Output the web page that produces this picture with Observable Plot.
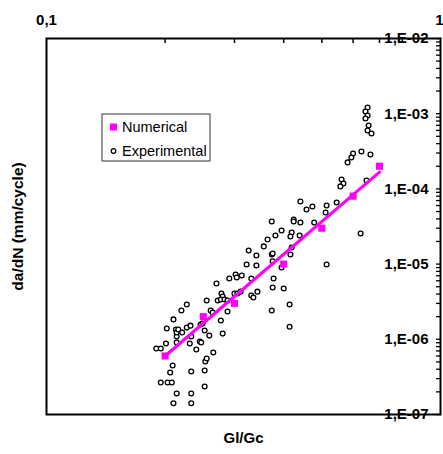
<!DOCTYPE html>
<html>
<head>
<meta charset="utf-8">
<script src="https://cdn.jsdelivr.net/npm/d3@7"></script>
<script src="https://cdn.jsdelivr.net/npm/@observablehq/plot@0.6"></script>
<style>
  html, body { margin: 0; padding: 0; background: #fff; }
  #chart { width: 443px; height: 454px; overflow: hidden; }
</style>
</head>
<body>
<div id="chart"></div>
<script>
// ---- tick values and labels ----
const xTicks = [0.1, 1];
const xTickLabels = ["0,1", "1"];
const xMinorTicks = [0.2, 0.3, 0.4, 0.5, 0.6, 0.7, 0.8, 0.9];
const yTicks = [1e-7, 1e-6, 1e-5, 1e-4, 1e-3, 1e-2];
const yTickLabels = ["1,E-07", "1,E-06", "1,E-05", "1,E-04", "1,E-03", "1,E-02"];
const yMinorFactors = [2, 3, 4, 5, 6, 7, 8, 9];

// ---- Numerical series ----
const numX = [0.2, 0.25, 0.3, 0.4, 0.5, 0.6, 0.7];
const numY = [6e-7, 2e-6, 3e-6, 1e-5, 3e-5, 8e-5, 2e-4];

// ---- power-law fit line through numerical results ----
const fitX = [0.2, 0.7];
const fitY = [6e-7, 1.67e-4];

// ---- Experimental series ----
const expX = [0.210,0.233,0.214,0.233,0.195,0.203,0.208,0.206,0.209,0.233,
  0.252,0.252,0.253,0.255,0.265,0.240,0.190,0.195,0.201,0.214,
  0.231,0.245,0.247,0.214,0.233,0.259,0.252,0.280,0.202,0.213,
  0.214,0.216,0.221,0.227,0.232,0.210,0.220,0.227,0.246,0.249,
  0.261,0.264,0.277,0.288,0.255,0.270,0.278,0.280,0.272,0.277,
  0.283,0.288,0.300,0.305,0.311,0.331,0.335,0.343,0.375,0.400,
  0.414,0.373,0.414,0.291,0.302,0.304,0.313,0.331,0.322,0.341,
  0.377,0.375,0.395,0.326,0.341,0.373,0.375,0.419,0.416,0.356,
  0.364,0.381,0.395,0.419,0.416,0.439,0.373,0.424,0.424,0.441,
  0.478,0.441,0.457,0.473,0.514,0.511,0.545,0.514,0.627,0.561,
  0.567,0.557,0.581,0.600,0.594,0.630,0.664,0.649,0.653,0.645,
  0.653,0.645,0.657,0.653,0.668];
const expY = [1.41e-7,1.41e-7,1.90e-7,1.90e-7,2.66e-7,2.66e-7,2.66e-7,3.62e-7,4.48e-7,3.73e-7,
  2.36e-7,3.85e-7,5.07e-7,5.56e-7,6.68e-7,7.32e-7,7.55e-7,7.55e-7,8.79e-7,9.07e-7,
  8.79e-7,9.35e-7,9.07e-7,1.09e-6,1.09e-6,1.12e-6,1.31e-6,1.19e-6,1.39e-6,1.35e-6,
  1.23e-6,1.35e-6,1.23e-6,1.43e-6,1.52e-6,1.84e-6,2.41e-6,2.90e-6,1.57e-6,1.62e-6,
  2.41e-6,2.27e-6,1.78e-6,2.34e-6,3.28e-6,5.52e-6,4.06e-6,3.71e-6,3.28e-6,3.38e-6,
  3.38e-6,3.28e-6,4.06e-6,4.06e-6,4.30e-6,3.82e-6,3.60e-6,4.30e-6,4.88e-6,4.73e-6,
  2.90e-6,2.41e-6,1.47e-6,6.43e-6,7.27e-6,6.63e-6,7.05e-6,6.43e-6,9.88e-6,9.58e-6,
  6.43e-6,1.09e-5,9.01e-6,1.52e-5,1.30e-5,1.34e-5,1.38e-5,1.66e-5,1.34e-5,1.72e-5,
  2.12e-5,2.40e-5,2.80e-5,2.63e-5,2.33e-5,2.40e-5,3.69e-5,3.92e-5,3.69e-5,3.58e-5,
  3.58e-5,6.80e-5,5.32e-5,5.84e-5,6.02e-5,4.85e-5,6.60e-5,9.88e-6,2.55e-5,1.33e-4,
  1.18e-4,1.08e-4,2.25e-4,2.95e-4,2.61e-4,3.14e-4,2.87e-4,1.29e-4,1.21e-3,1.07e-3,
  9.46e-4,8.63e-4,6.97e-4,5.98e-4,5.45e-4];

// ---- legend / labels ----
const seriesNames = ["Numerical", "Experimental"];
const xLabel = "Gl/Gc";
const yLabel = "da/dN (mm/cycle)";

const MAGENTA = "#ff00ff";
const FONT = "'Liberation Sans', Arial, sans-serif";

const experimental = expX.map((x, i) => ({x, y: expY[i]}));
const numerical = numX.map((x, i) => ({x, y: numY[i]}));
const fit = fitX.map((x, i) => ({x, y: fitY[i]}));
const yMajor = yTicks.map((v, i) => ({v, label: yTickLabels[i]}));
const xMajor = xTicks.map((v, i) => ({v, label: xTickLabels[i]}));
const yMinor = yTicks.slice(0, -1).flatMap(d => yMinorFactors.map(f => d * f)).concat(yTicks);

const topText = {frameAnchor: "top", dy: -24, fontWeight: "bold", fontSize: 15, fill: "#000"};

const chart = Plot.plot({
  width: 443,
  height: 454,
  marginLeft: 46,
  marginRight: 3,
  marginTop: 38,
  marginBottom: 40,
  style: {fontFamily: FONT, background: "#fff", overflow: "visible"},
  x: {type: "log", domain: [0.1, 1]},
  y: {type: "log", domain: [1e-7, 1e-2]},
  marks: [
    // minor ticks (inward)
    Plot.axisX({anchor: "top", ticks: xMinorTicks, tickSize: -4, tickFormat: () => "", label: null, stroke: "#000", strokeWidth: 1.5}),
    Plot.axisY({anchor: "right", ticks: yMinor, tickSize: -5, tickFormat: () => "", label: null, stroke: "#000", strokeWidth: 1.3}),
    // experimental data
    Plot.dot(experimental, {x: "x", y: "y", r: 2.4, stroke: "#000", strokeWidth: 1.3, fill: "#fff"}),
    // fit line and numerical points
    Plot.line(fit, {x: "x", y: "y", stroke: MAGENTA, strokeWidth: 3.2}),
    Plot.dot(numerical, {x: "x", y: "y", symbol: "square", r: 4, fill: MAGENTA, stroke: "none"}),
    Plot.frame({stroke: "#000", strokeWidth: 2}),
    // tick labels
    Plot.text(yMajor, {y: "v", text: "label", frameAnchor: "right", dx: -12, textAnchor: "end", fontWeight: "bold", fontSize: 15, fill: "#000"}),
    Plot.text(xMajor.slice(0, 1), {x: "v", text: "label", ...topText, textAnchor: "middle"}),
    Plot.text(xMajor.slice(1), {x: "v", text: "label", ...topText, textAnchor: "end", dx: 3}),
    // axis titles
    Plot.text([xLabel], {frameAnchor: "bottom", dy: 28, fontWeight: "bold", fontSize: 15, fill: "#000"}),
    Plot.text([yLabel], {frameAnchor: "left", rotate: -90, dx: -28, textAnchor: "middle", fontWeight: "bold", fontSize: 15.5, fill: "#000"})
  ]
});

// legend box inside the plot area
const svg = d3.select(chart);
const lg = svg.append("g").attr("font-family", FONT).attr("font-size", 14.5).attr("text-anchor", "start");
lg.append("rect").attr("x", 102).attr("y", 114).attr("width", 108).attr("height", 47)
  .attr("fill", "#fff").attr("stroke", "#333").attr("stroke-width", 1);
lg.append("rect").attr("x", 110).attr("y", 123.5).attr("width", 7).attr("height", 7).attr("fill", MAGENTA);
lg.append("text").attr("x", 122).attr("y", 131.5).attr("text-anchor", "start").text(seriesNames[0]);
lg.append("circle").attr("cx", 113.5).attr("cy", 151).attr("r", 2.3)
  .attr("fill", "#fff").attr("stroke", "#000").attr("stroke-width", 1.2);
lg.append("text").attr("x", 122).attr("y", 156).attr("text-anchor", "start").text(seriesNames[1]);

document.getElementById("chart").appendChild(chart);
</script>
</body>
</html>
